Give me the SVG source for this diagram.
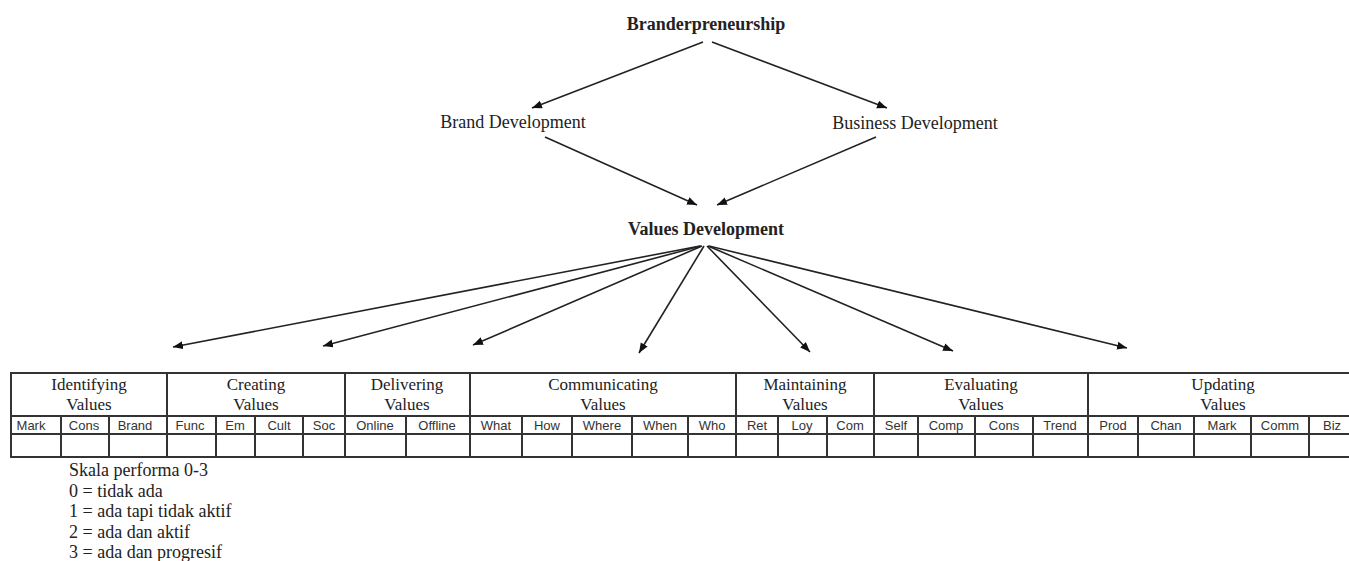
<svg xmlns="http://www.w3.org/2000/svg" width="1349" height="561" viewBox="0 0 1349 561">
<style>
.t{font-family:"Liberation Serif","Times New Roman",serif;fill:#222;}
.b{font-weight:bold;font-size:18px;}
.n{font-size:18px;}
.h{font-size:17px;text-anchor:middle;}
.s{font-family:"Liberation Sans",Arial,sans-serif;font-size:13px;fill:#333;text-anchor:middle;}
.c{stroke:#222;stroke-width:1.6;fill:none;marker-end:url(#ah);}
.g{stroke:#333;stroke-width:2;fill:none;}
</style>
<defs>
<marker id="ah" markerUnits="userSpaceOnUse" markerWidth="12" markerHeight="10" refX="10" refY="4" orient="auto">
<path d="M0,0 L10,4 L0,8 Z" fill="#111"/>
</marker>
</defs>
<rect width="1349" height="561" fill="#fff"/>
<g id="node-branderpreneurship"><text class="t b" x="706" y="30" text-anchor="middle">Branderpreneurship</text></g>
<g id="node-brand-development"><text class="t n" x="513" y="128" text-anchor="middle">Brand Development</text></g>
<g id="node-business-development"><text class="t n" x="915" y="129" text-anchor="middle">Business Development</text></g>
<g id="node-values-development"><text class="t b" x="706" y="235" text-anchor="middle">Values Development</text></g>
<g id="connectors">
<line class="c" x1="703" y1="42" x2="532" y2="108"/>
<line class="c" x1="712" y1="42" x2="887" y2="108"/>
<line class="c" x1="545" y1="137" x2="697" y2="205"/>
<line class="c" x1="876" y1="137" x2="717" y2="205"/>
<line class="c" x1="700" y1="246" x2="173" y2="347"/>
<line class="c" x1="701" y1="246" x2="323" y2="346"/>
<line class="c" x1="702" y1="246" x2="473" y2="345"/>
<line class="c" x1="704" y1="246" x2="639" y2="353"/>
<line class="c" x1="707" y1="246" x2="810" y2="352"/>
<line class="c" x1="708" y1="246" x2="953" y2="351"/>
<line class="c" x1="709" y1="246" x2="1127" y2="348"/>
</g>
<g id="node-table">
<rect class="g" x="11" y="373" width="1360" height="84"/>
<line class="g" x1="11" y1="416" x2="1371" y2="416"/>
<line class="g" x1="11" y1="434" x2="1371" y2="434"/>
<path class="g" d="M167,373V457M345,373V457M470,373V457M736,373V457M874,373V457M1088,373V457"/>
<path class="g" d="M61,416V457M109,416V457M216,416V457M255,416V457M303,416V457M406,416V457M522,416V457M572,416V457M632,416V457M688,416V457M778,416V457M827,416V457M918,416V457M975,416V457M1033,416V457M1138,416V457M1194,416V457M1251,416V457M1309,416V457"/>
<text class="t h" x="89" y="390">Identifying</text><text class="t h" x="89" y="410">Values</text>
<text class="t h" x="256" y="390">Creating</text><text class="t h" x="256" y="410">Values</text>
<text class="t h" x="407" y="390">Delivering</text><text class="t h" x="407" y="410">Values</text>
<text class="t h" x="603" y="390">Communicating</text><text class="t h" x="603" y="410">Values</text>
<text class="t h" x="805" y="390">Maintaining</text><text class="t h" x="805" y="410">Values</text>
<text class="t h" x="981" y="390">Evaluating</text><text class="t h" x="981" y="410">Values</text>
<text class="t h" x="1223" y="390">Updating</text><text class="t h" x="1223" y="410">Values</text>
<text class="s" x="31" y="430">Mark</text>
<text class="s" x="84" y="430">Cons</text>
<text class="s" x="135" y="430">Brand</text>
<text class="s" x="190" y="430">Func</text>
<text class="s" x="235" y="430">Em</text>
<text class="s" x="279" y="430">Cult</text>
<text class="s" x="324" y="430">Soc</text>
<text class="s" x="375" y="430">Online</text>
<text class="s" x="437" y="430">Offline</text>
<text class="s" x="496" y="430">What</text>
<text class="s" x="547" y="430">How</text>
<text class="s" x="602" y="430">Where</text>
<text class="s" x="660" y="430">When</text>
<text class="s" x="712" y="430">Who</text>
<text class="s" x="757" y="430">Ret</text>
<text class="s" x="802" y="430">Loy</text>
<text class="s" x="850" y="430">Com</text>
<text class="s" x="896" y="430">Self</text>
<text class="s" x="946" y="430">Comp</text>
<text class="s" x="1004" y="430">Cons</text>
<text class="s" x="1060" y="430">Trend</text>
<text class="s" x="1113" y="430">Prod</text>
<text class="s" x="1166" y="430">Chan</text>
<text class="s" x="1222" y="430">Mark</text>
<text class="s" x="1280" y="430">Comm</text>
<text class="s" x="1332" y="430">Biz</text>
</g>
<g id="node-legend">
<text class="t n" x="69" y="476">Skala performa 0-3</text>
<text class="t n" x="69" y="496.5">0 = tidak ada</text>
<text class="t n" x="69" y="517">1 = ada tapi tidak aktif</text>
<text class="t n" x="69" y="537.5">2 = ada dan aktif</text>
<text class="t n" x="69" y="558">3 = ada dan progresif</text>
</g>
</svg>
